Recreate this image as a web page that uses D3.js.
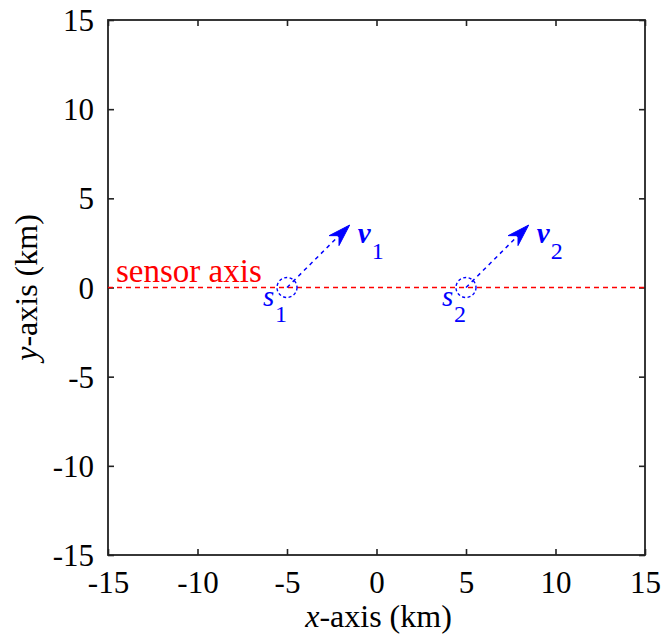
<!DOCTYPE html>
<html>
<head>
<meta charset="utf-8">
<script src="https://cdn.jsdelivr.net/npm/d3@7"></script>
<style>
  html, body { margin: 0; padding: 0; background: #fff; }
  svg { display: block; }
  svg text, svg tspan { font-family: "Liberation Serif", "Times New Roman", serif !important; }
</style>
</head>
<body>
<svg id="sensor-plot" width="662" height="635" font-family="Liberation Serif"></svg>
<script>
// Axis limits and tick values (km)
const xDomain = [-15, 15];
const yDomain = [-15, 15];
const xTicks = [-15, -10, -5, 0, 5, 10, 15];
const yTicks = [-15, -10, -5, 0, 5, 10, 15];

// Sensor positions (km) and their velocity vectors (km)
const sensorIds = ["1", "2"];
const sensorX = [-5, 5];
const sensorY = [0, 0];
const velX = [3.5, 3.5];
const velY = [3.5, 3.5];

// Sensor axis line (y = 0)
const axisLineY = 0;
const axisLabel = "sensor axis";

const serif = "Liberation Serif";
const svg = d3.select("#sensor-plot");
const plot = { left: 108, top: 20, right: 645, bottom: 555 };

const x = d3.scaleLinear().domain(xDomain).range([plot.left, plot.right]);
const y = d3.scaleLinear().domain(yDomain).range([plot.bottom, plot.top]);

const tickFont = 31;
const titleFont = 32;
const axisColor = "#222";

// Axes: ticks point inward, mirrored on the opposite sides (box on)
const tickLen = 6;
const bottomAxis = svg.append("g")
  .attr("transform", `translate(0,${plot.bottom})`)
  .call(d3.axisBottom(x).tickValues(xTicks).tickSize(-tickLen).tickPadding(tickLen + 10));
const topAxis = svg.append("g")
  .attr("transform", `translate(0,${plot.top})`)
  .call(d3.axisTop(x).tickValues(xTicks).tickSize(-tickLen).tickFormat(""));
const leftAxis = svg.append("g")
  .attr("transform", `translate(${plot.left},0)`)
  .call(d3.axisLeft(y).tickValues(yTicks).tickSize(-tickLen).tickPadding(tickLen + 8));
const rightAxis = svg.append("g")
  .attr("transform", `translate(${plot.right},0)`)
  .call(d3.axisRight(y).tickValues(yTicks).tickSize(-tickLen).tickFormat(""));

[bottomAxis, topAxis, leftAxis, rightAxis].forEach(g => {
  g.attr("font-family", serif).attr("font-size", tickFont);
  g.select(".domain").remove();
  g.selectAll(".tick line").attr("stroke", axisColor).attr("stroke-width", 1.6);
  g.selectAll(".tick text")
    .attr("fill", "#000")
    .attr("font-family", serif)
    .attr("font-size", tickFont);
});
// Plain hyphen-minus for negative tick labels
bottomAxis.selectAll(".tick text").text(d => String(d)).attr("dy", "0.71em");
leftAxis.selectAll(".tick text").text(d => String(d)).attr("dy", "0.34em");

// Plot box
svg.append("rect")
  .attr("x", plot.left).attr("y", plot.top)
  .attr("width", plot.right - plot.left).attr("height", plot.bottom - plot.top)
  .attr("fill", "none").attr("stroke", axisColor).attr("stroke-width", 1.8);

// Axis titles
const xTitle = svg.append("text")
  .attr("x", (plot.left + plot.right) / 2 + 2)
  .attr("y", 627)
  .attr("text-anchor", "middle")
  .attr("font-family", serif)
  .attr("font-size", titleFont)
  .attr("fill", "#000");
xTitle.append("tspan").attr("font-style", "italic").text("x");
xTitle.append("tspan").text("-axis (km)");

const yTitle = svg.append("text")
  .attr("transform", `translate(37,${(plot.top + plot.bottom) / 2}) rotate(-90)`)
  .attr("text-anchor", "middle")
  .attr("font-family", serif)
  .attr("font-size", titleFont)
  .attr("fill", "#000");
yTitle.append("tspan").attr("font-style", "italic").text("y");
yTitle.append("tspan").text("-axis (km)");

// Sensor axis (red dashed line along y = 0)
svg.append("line")
  .attr("x1", x(xDomain[0])).attr("x2", x(xDomain[1]))
  .attr("y1", y(axisLineY)).attr("y2", y(axisLineY))
  .attr("stroke", "#ff0000").attr("stroke-width", 1.6)
  .attr("stroke-dasharray", "5,4");

svg.append("text")
  .attr("x", x(xDomain[0]) + 8)
  .attr("y", y(axisLineY) - 6)
  .attr("fill", "#ff0000")
  .attr("font-family", serif)
  .attr("font-size", 33)
  .text(axisLabel);

// Sensors, velocity arrows and labels
const blue = "#0000ff";
const sensors = sensorIds.map((id, i) => ({
  id, sx: sensorX[i], sy: sensorY[i], vx: velX[i], vy: velY[i]
}));

const g = svg.append("g");
sensors.forEach(s => {
  const cx = x(s.sx), cy = y(s.sy);
  const tx = x(s.sx + s.vx), ty = y(s.sy + s.vy);
  const ang = Math.atan2(ty - cy, tx - cx);
  const ux = Math.cos(ang), uy = Math.sin(ang);
  const px = -uy, py = ux;
  const headLen = 22, headHalf = 7, notch = 15;

  // dashed shaft from the sensor to the arrow head
  g.append("line")
    .attr("x1", cx).attr("y1", cy)
    .attr("x2", tx - ux * notch).attr("y2", ty - uy * notch)
    .attr("stroke", blue).attr("stroke-width", 1.5)
    .attr("stroke-dasharray", "4,4");

  // filled arrow head
  const bx = tx - ux * headLen, by = ty - uy * headLen;
  const nx = tx - ux * notch, ny = ty - uy * notch;
  g.append("path")
    .attr("d", `M${tx},${ty} L${bx + px * headHalf},${by + py * headHalf} L${nx},${ny} L${bx - px * headHalf},${by - py * headHalf} Z`)
    .attr("fill", blue).attr("stroke", blue).attr("stroke-width", 1);

  // sensor marker (dashed circle)
  g.append("circle")
    .attr("cx", cx).attr("cy", cy).attr("r", 10)
    .attr("fill", "none").attr("stroke", blue).attr("stroke-width", 1.4)
    .attr("stroke-dasharray", "3,2.5");

  // sensor label s_i
  g.append("text")
    .attr("x", cx - 24).attr("y", cy + 18)
    .attr("fill", blue)
    .attr("font-family", serif).attr("font-style", "italic").attr("font-size", 29)
    .text("s");
  g.append("text")
    .attr("x", cx - 12).attr("y", cy + 34)
    .attr("fill", blue)
    .attr("font-family", serif).attr("font-size", 24)
    .text(s.id);

  // velocity label v_i
  g.append("text")
    .attr("x", tx + 8).attr("y", ty + 18)
    .attr("fill", blue)
    .attr("font-family", serif).attr("font-style", "italic").attr("font-weight", "bold").attr("font-size", 29)
    .text("v");
  g.append("text")
    .attr("x", tx + 22).attr("y", ty + 34)
    .attr("fill", blue)
    .attr("font-family", serif).attr("font-size", 24)
    .text(s.id);
});
</script>
</body>
</html>
